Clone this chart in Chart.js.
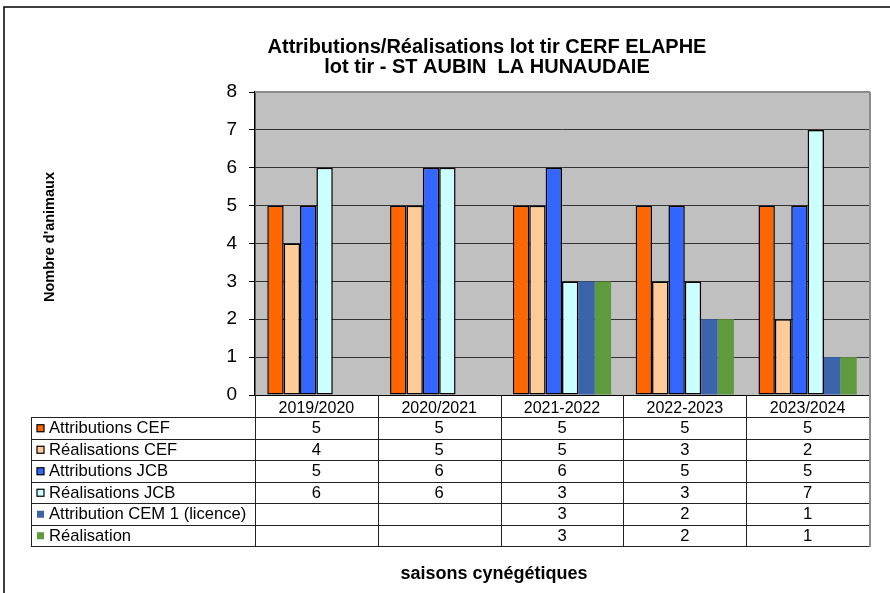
<!DOCTYPE html>
<html>
<head>
<meta charset="utf-8">
<script src="https://cdn.jsdelivr.net/npm/chart.js@4/dist/chart.umd.min.js"></script>
<style>
  html, body { margin: 0; padding: 0; background: #fff; }
  #wrap { position: relative; width: 890px; height: 593px; }
</style>
</head>
<body>
<div id="wrap"><canvas id="myChart" width="890" height="593"></canvas></div>
<script>
// saisons
var labels = ["2019/2020", "2020/2021", "2021-2022", "2022-2023", "2023/2024"];
// valeurs par série
var attributionsCEF = [5, 5, 5, 5, 5];
var realisationsCEF = [4, 5, 5, 3, 2];
var attributionsJCB = [5, 6, 6, 5, 5];
var realisationsJCB = [6, 6, 3, 3, 7];
var attributionCEM = [null, null, 3, 2, 1];
var realisationCEM = [null, null, 3, 2, 1];
var yTicks = [0, 1, 2, 3, 4, 5, 6, 7, 8];

var titleLines = ["Attributions/Réalisations lot tir CERF ELAPHE", "lot tir - ST AUBIN  LA HUNAUDAIE"];
var yTitle = "Nombre d'animaux";
var xTitle = "saisons cynégétiques";

var FONT = "'Liberation Sans', Arial, sans-serif";

function serie(label, data, color, bordered) {
    return {
        label: label,
        data: data,
        backgroundColor: color,
        borderColor: '#000',
        borderWidth: bordered ? 1.5 : 0,
        borderSkipped: false
    };
}

var datasets = [
    serie("Attributions CEF", attributionsCEF, '#FF6600', true),
    serie("Réalisations CEF", realisationsCEF, '#FFCC99', true),
    serie("Attributions JCB", attributionsJCB, '#3366FF', true),
    serie("Réalisations JCB", realisationsJCB, '#CCFFFF', true),
    serie("Attribution CEM 1 (licence)", attributionCEM, '#3C64AA', false),
    serie("Réalisation", realisationCEM, '#5F9A3C', false)
];

// fond gris de la zone de tracé
var plotBg = {
    id: 'plotBg',
    beforeDraw: function(chart) {
        var a = chart.chartArea, c = chart.ctx;
        c.save();
        c.fillStyle = '#C0C0C0';
        c.fillRect(a.left, a.top, a.right - a.left, a.bottom - a.top);
        c.restore();
    }
};

// tableau de données + titres
var dataTable = {
    id: 'dataTable',
    afterDraw: function(chart) {
        var a = chart.chartArea, c = chart.ctx;
        var tLeft = 31, headBottom = 417, rowH = 21.5;
        var nRows = datasets.length;
        var tBottom = headBottom + rowH * nRows;
        var catW = (a.right - a.left) / labels.length;
        c.save();

        // cadre extérieur
        c.strokeStyle = '#000';
        c.lineWidth = 1.5;
        c.beginPath();
        c.moveTo(4, 593); c.lineTo(4, 7); c.lineTo(890, 7);
        c.stroke();

        c.lineWidth = 1;
        c.strokeStyle = '#222';
        c.beginPath();
        for (var r = 0; r <= nRows; r++) {
            var y = Math.round(headBottom + r * rowH) + 0.5;
            c.moveTo(tLeft, y); c.lineTo(a.right, y);
        }
        c.moveTo(tLeft + 0.5, headBottom); c.lineTo(tLeft + 0.5, tBottom);
        for (var i = 0; i < labels.length; i++) {
            var x = Math.round(a.left + i * catW) + 0.5;
            c.moveTo(x, a.bottom); c.lineTo(x, tBottom);
        }
        c.stroke();

        // bord droit gris
        c.strokeStyle = '#8C8C8C';
        c.lineWidth = 2;
        c.beginPath();
        c.moveTo(a.right + 1, a.top); c.lineTo(a.right + 1, tBottom + 1);
        c.moveTo(a.left, a.top); c.lineTo(a.right + 1, a.top);
        c.stroke();

        c.font = '16.6px ' + FONT;
        c.textBaseline = 'middle';
        c.fillStyle = '#000';
        datasets.forEach(function(ds, r) {
            var cy = headBottom + r * rowH + rowH / 2 + 1;
            // marqueur
            c.fillStyle = ds.backgroundColor;
            c.fillRect(37, cy - 4, 7, 7);
            if (ds.borderWidth) {
                c.strokeStyle = '#000';
                c.lineWidth = 1.2;
                c.strokeRect(37, cy - 4, 7, 7);
            }
            c.fillStyle = '#000';
            c.textAlign = 'left';
            c.fillText(ds.label, 49, cy);
            c.textAlign = 'center';
            ds.data.forEach(function(v, i) {
                if (v === null) return;
                c.fillText(String(v), a.left + (i + 0.5) * catW, cy);
            });
        });

        // titres
        c.font = 'bold 20px ' + FONT;
        c.textAlign = 'center';
        c.fillText(titleLines[0], 487, 47);
        c.fillText(titleLines[1], 487, 67);
        c.font = 'bold 18px ' + FONT;
        c.fillText(xTitle, 494, 574);
        c.translate(50, 237);
        c.rotate(-Math.PI / 2);
        c.font = 'bold 14.5px ' + FONT;
        c.fillText(yTitle, 0, 0);
        c.restore();
    }
};

var ctx = document.getElementById('myChart').getContext('2d');
var chart = new Chart(ctx, {
    type: 'bar',
    data: {
        labels: labels,
        datasets: datasets
    },
    options: {
        responsive: false,
        animation: false,
        devicePixelRatio: 1,
        layout: { padding: { left: 0, right: 21, top: 92, bottom: 0 } },
        datasets: { bar: { barPercentage: 1, categoryPercentage: 0.8 } },
        plugins: {
            legend: { display: false },
            title: { display: false },
            tooltip: { enabled: false }
        },
        scales: {
            x: {
                offset: true,
                grid: { display: false, drawTicks: false },
                border: { display: true, color: '#000', width: 1 },
                ticks: { color: '#000', font: { family: FONT, size: 16 }, padding: 4, maxRotation: 0 },
                afterFit: function(s) { s.height = 198; }
            },
            y: {
                min: 0,
                max: 8,
                afterBuildTicks: function(s) { s.ticks = yTicks.map(function(v) { return { value: v }; }); },
                grid: {
                    color: function(c) { return c.tick && c.tick.value === 8 ? '#999' : '#333'; },
                    tickColor: '#000',
                    tickLength: 6,
                    lineWidth: 1
                },
                border: { display: true, color: '#000', width: 1.5 },
                ticks: { color: '#000', font: { family: FONT, size: 19 }, padding: 12 },
                afterFit: function(s) { s.width = 255; }
            }
        }
    },
    plugins: [plotBg, dataTable]
});
</script>
</body>
</html>
